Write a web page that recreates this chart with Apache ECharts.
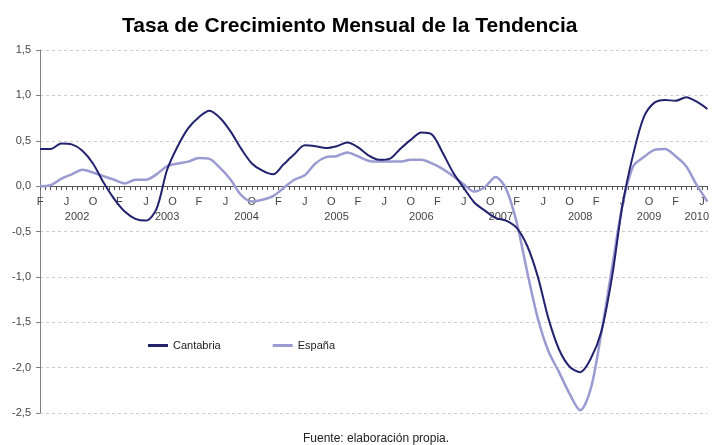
<!DOCTYPE html>
<html>
<head>
<meta charset="utf-8">
<script src="https://cdn.jsdelivr.net/npm/echarts@6/dist/echarts.min.js"></script>
<style>
  html, body { margin: 0; padding: 0; background: #fff; }
  #chart { width: 712px; height: 445px; }
</style>
</head>
<body>
<div id="chart"></div>
<script>
// meses rotulados en el eje (cada 5 marcas)
var etiquetasMes = ['F', 'J', 'O'];
// años y la marca del eje donde va cada rótulo
var anios = ['2002', '2003', '2004', '2005', '2006', '2007', '2008', '2009', '2010'];
var marcaAnio = [7, 24, 39, 56, 72, 87, 102, 115, 124];

// valores leídos cada 2 marcas del eje
var cantabria = [
    0.41, 0.41, 0.47, 0.46, 0.39, 0.25, 0.04, -0.14, -0.28, -0.36,
    -0.38, -0.25, 0.18, 0.44, 0.64, 0.76, 0.83, 0.75, 0.60, 0.41,
    0.25, 0.17, 0.13, 0.24, 0.35, 0.45, 0.44, 0.42, 0.44, 0.48,
    0.43, 0.34, 0.29, 0.30, 0.41, 0.51, 0.59, 0.57, 0.37, 0.15,
    -0.02, -0.18, -0.27, -0.35, -0.38, -0.46, -0.66, -1.00, -1.46, -1.80,
    -1.99, -2.05, -1.90, -1.60, -1.00, -0.20, 0.35, 0.76, 0.92, 0.95,
    0.94, 0.98, 0.93, 0.85
];
var espana = [
    0.00, 0.01, 0.08, 0.13, 0.18, 0.15, 0.11, 0.07, 0.03, 0.07,
    0.07, 0.13, 0.22, 0.25, 0.27, 0.31, 0.30, 0.20, 0.07, -0.10,
    -0.17, -0.15, -0.11, -0.02, 0.07, 0.12, 0.25, 0.32, 0.33, 0.37,
    0.33, 0.28, 0.27, 0.27, 0.27, 0.29, 0.29, 0.25, 0.19, 0.11,
    0.02, -0.06, -0.01, 0.10, -0.03, -0.40, -0.95, -1.46, -1.82, -2.05,
    -2.29, -2.47, -2.23, -1.61, -0.90, -0.20, 0.22, 0.32, 0.40, 0.41,
    0.33, 0.22, 0.01, -0.17
];

function aPares(serie) {
    return serie.map(function (v, i) { return [i * 2, v]; });
}

var myChart = echarts.init(document.getElementById('chart'));
var fuente = 'Liberation Sans, Arial, sans-serif';
// el eje x va en el 0 del eje y: se sube desde el borde inferior
var subirEje = -227;

myChart.setOption({
    animation: false,
    textStyle: { fontFamily: fuente },
    title: [{
        text: 'Tasa de Crecimiento Mensual de la Tendencia',
        left: 117,
        top: 11,
        textStyle: { fontSize: 21, fontWeight: 'bold', color: '#000', fontFamily: fuente }
    }, {
        text: 'Fuente: elaboración propia.',
        left: 298,
        top: 428,
        textStyle: { fontSize: 12, fontWeight: 'normal', color: '#222', fontFamily: fuente }
    }],
    legend: {
        left: 143,
        top: 335,
        icon: 'rect',
        itemGap: 52,
        itemWidth: 20,
        itemHeight: 3,
        textStyle: { fontSize: 11, color: '#222', fontFamily: fuente },
        data: ['Cantabria', 'España']
    },
    grid: {
        left: 40,
        right: 0,
        top: 50,
        bottom: 32
    },
    xAxis: [{
        type: 'value',
        min: 0,
        max: 126,
        interval: 5,
        offset: subirEje,
        axisLine: {
            onZero: false,
            lineStyle: { color: '#555', width: 1 }
        },
        axisTick: {
            show: true,
            length: 4,
            lineStyle: { color: '#555' }
        },
        minorTick: {
            show: true,
            splitNumber: 5,
            length: 4,
            lineStyle: { color: '#555' }
        },
        splitLine: { show: false },
        axisLabel: {
            margin: 10,
            fontSize: 11,
            color: '#444',
            formatter: function (v) {
                return v % 5 === 0 ? etiquetasMes[(v / 5) % 3] : '';
            }
        }
    }, {
        type: 'value',
        min: 0,
        max: 126,
        position: 'bottom',
        offset: subirEje,
        axisLine: { show: false, onZero: false },
        axisTick: { show: false },
        splitLine: { show: false },
        axisLabel: {
            margin: 25,
            fontSize: 11,
            color: '#444',
            customValues: marcaAnio,
            formatter: function (v) {
                var k = marcaAnio.indexOf(v);
                return k >= 0 ? anios[k] : '';
            }
        }
    }],
    yAxis: {
        type: 'value',
        min: -2.5,
        max: 1.5,
        interval: 0.5,
        axisLine: {
            show: true,
            lineStyle: { color: '#808080' }
        },
        axisTick: {
            show: true,
            length: 4,
            lineStyle: { color: '#808080' }
        },
        splitLine: {
            show: true,
            lineStyle: { color: '#cccccc', type: [3, 3], width: 1 }
        },
        axisLabel: {
            margin: 9,
            fontSize: 11,
            color: '#444',
            formatter: function (v) {
                return v.toFixed(1).replace('.', ',');
            }
        }
    },
    series: [{
        name: 'Cantabria',
        type: 'line',
        symbol: 'none',
        smooth: 0.3,
        data: aPares(cantabria),
        lineStyle: { color: '#22226e', width: 2 },
        itemStyle: { color: '#22226e' },
        z: 3
    }, {
        name: 'España',
        type: 'line',
        symbol: 'none',
        smooth: 0.3,
        data: aPares(espana),
        lineStyle: { color: '#9b9bd2', width: 2.5 },
        itemStyle: { color: '#9b9bd2' },
        z: 2
    }]
});
</script>
</body>
</html>
